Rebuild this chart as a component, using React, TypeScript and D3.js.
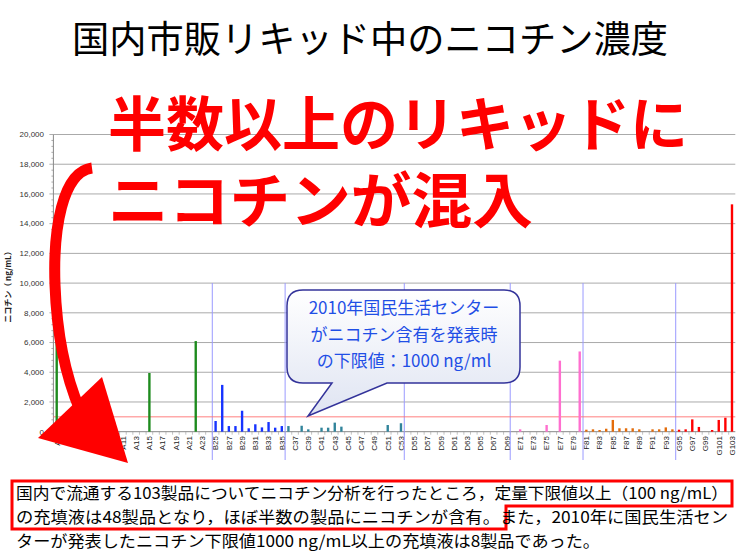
import React from "react";
import * as d3 from "d3";

// ---- data ----
const groupLetters = ["A", "B", "C", "D", "E", "F", "G"];
const groupFirstNumber = [1, 25, 36, 54, 70, 81, 95];
const groupColors = ["#1E8B1E", "#1633FF", "#31849B", "#7F7F7F", "#FF6FCF", "#E46C0A", "#FF0000"];
const productCount = 103;

// nicotine (ng/mL) for products 1..103
const nicotineValues = [
  6600, 0, 0, 0, 0, 0, 0, 0, 0, 0, // A1-A10
  0, 0, 0, 0, 3950, 0, 0, 0, 0, 0, // A11-A20
  0, 6100, 0, 0, // A21-A24
  720, 3150, 380, 380, 1410, 230, 500, 290, 650, 270, 380, // B25-B35
  380, 0, 400, 160, 0, 270, 270, 610, 340, 0, 0, 0, 0, 0, 0, 450, 0, 570, // C36-C53
  0, 0, 0, 0, 0, 0, 0, 0, 0, 0, 0, 0, 0, 0, 0, 0, // D54-D69
  0, 160, 0, 0, 0, 450, 0, 4780, 0, 0, 5400, // E70-E80
  135, 160, 115, 200, 790, 230, 230, 230, 160, 0, 160, 160, 290, 160, // F81-F94
  135, 160, 830, 320, 0, 115, 790, 940, 15300, // G95-G103
];

const yTicks = [0, 2000, 4000, 6000, 8000, 10000, 12000, 14000, 16000, 18000, 20000];
const limitValue = 1000;

const titleText = "国内市販リキッド中のニコチン濃度";
const bigText1 = "半数以上のリキッドに";
const bigText2 = "ニコチンが混入";
const calloutLines = ["2010年国民生活センター", "がニコチン含有を発表時", "の下限値：1000 ng/ml"];
const yAxisTitle = "ニコチン（ ng/mL）";
const noteLines = [
  "国内で流通する103製品についてニコチン分析を行ったところ，定量下限値以上（100 ng/mL）",
  "の充填液は48製品となり，ほぼ半数の製品にニコチンが含有。また，2010年に国民生活セン",
  "ターが発表したニコチン下限値1000 ng/mL以上の充填液は8製品であった。",
];

function groupOf(num: number) {
  let g = 0;
  for (let i = 0; i < groupFirstNumber.length; i++) if (num >= groupFirstNumber[i]) g = i;
  return g;
}

const products = d3.range(productCount).map((i) => {
  const num = i + 1;
  const g = groupOf(num);
  return { label: groupLetters[g] + num, group: g, value: nicotineValues[i], idx: i };
});

export default function App() {
  const left = 53.4;
  const right = 735.3;
  const top = 134.5;
  const bottom = 431.7;

  const x = d3
    .scaleBand<string>()
    .domain(products.map((p) => p.label))
    .range([left, right])
    .paddingInner(0.64)
    .paddingOuter(0.32);
  const y = d3.scaleLinear().domain([0, 20000]).range([bottom, top]);
  const step = x.step();
  const bw = x.bandwidth();

  const minorTicks = d3.range(0, 20001, 400);
  const sepX = groupFirstNumber.slice(1).map((n) => (x(products[n - 1].label) as number) + bw / 2 - step / 2);

  const arrowBody = "M 92,168 C 62,172 53,230 55,285 C 57,340 68,382 80,410";

  // callout
  const cL = 287, cR = 520, cT = 290, cB = 383, r = 16;
  const calloutPath = `M ${cL + r},${cT} H ${cR - r} Q ${cR},${cT} ${cR},${cT + r} V ${cB - r} Q ${cR},${cB} ${cR - r},${cB}
    H 387 L 308,416 L 332,${cB} H ${cL + r} Q ${cL},${cB} ${cL},${cB - r} V ${cT + r} Q ${cL},${cT} ${cL + r},${cT} Z`;

  const cjk = "'Noto Sans CJK JP', 'Noto Sans', sans-serif";
  const sans = "'Liberation Sans', Arial, sans-serif";

  return (
    <svg width={740} height={556} style={{ position: "absolute", left: 0, top: 0, background: "#fff" }}>
      <defs>
        <linearGradient id="cg" x1="0" y1="0" x2="0" y2="1">
          <stop offset="0" stopColor="#ffffff" />
          <stop offset="1" stopColor="#dfe4f2" />
        </linearGradient>
      </defs>
      <rect x={0} y={0} width={740} height={556} fill="#fff" />

      {/* title */}
      <text x={370} y={53} textAnchor="middle" fontFamily={cjk} fontSize={37} fill="#000" textLength={596} lengthAdjust="spacingAndGlyphs">
        {titleText}
      </text>

      {/* gridlines */}
      {yTicks.map((t) => (
        <line key={"g" + t} x1={left} x2={right} y1={y(t)} y2={y(t)} stroke={t === 0 ? "#888" : "#aaaaaa"} strokeWidth={1} />
      ))}
      {/* minor ticks */}
      {minorTicks.map((t) => (
        <line key={"m" + t} x1={left - (t % 2000 === 0 ? 4 : 2)} x2={left} y1={y(t)} y2={y(t)} stroke="#999" strokeWidth={0.8} />
      ))}
      <line x1={left} x2={left} y1={top} y2={bottom} stroke="#888" />
      {yTicks.map((t) => (
        <text key={"yl" + t} x={44} y={y(t)} dy="0.35em" textAnchor="end" fontFamily={sans} fontSize={8} fill="#333">
          {d3.format(",")(t)}
        </text>
      ))}
      <text transform={`translate(11,285) rotate(-90)`} textAnchor="middle" fontFamily={cjk} fontWeight={700} fontSize={8} fill="#222">
        {yAxisTitle}
      </text>

      {/* x ticks */}
      {products.map((p) => (
        <line key={"xt" + p.idx} x1={(x(p.label) as number) + bw / 2 - step / 2} x2={(x(p.label) as number) + bw / 2 - step / 2} y1={bottom} y2={bottom + 3} stroke="#999" strokeWidth={0.6} />
      ))}
      {products
        .filter((p) => p.idx % 2 === 0)
        .map((p) => (
          <text
            key={"xl" + p.idx}
            transform={`translate(${(x(p.label) as number) + bw / 2},436) rotate(-90)`}
            dy="0.35em"
            textAnchor="end"
            fontFamily={sans}
            fontSize={8}
            fill="#222"
          >
            {p.label}
          </text>
        ))}

      {/* group separators */}
      {sepX.map((sx, i) => (
        <line key={"s" + i} x1={sx} x2={sx} y1={283} y2={460} stroke="#9a9aff" strokeWidth={1} />
      ))}

      {/* limit line */}
      <line x1={left} x2={right} y1={y(limitValue)} y2={y(limitValue)} stroke="#ff7070" strokeWidth={0.9} />

      {/* bars */}
      {products
        .filter((p) => p.value > 0)
        .map((p) => (
          <rect key={"b" + p.idx} x={x(p.label) as number} y={y(p.value)} width={bw} height={bottom - y(p.value)} fill={groupColors[p.group]} />
        ))}

      {/* callout */}
      <path d={calloutPath} fill="url(#cg)" stroke="#33339a" strokeWidth={1.5} />
      {calloutLines.map((s, i) => (
        <text key={"c" + i} x={404} y={314 + i * 26.5} textAnchor="middle" fontFamily={cjk} fontSize={17} fill="#1f4fe6">
          {s}
        </text>
      ))}

      {/* big red text */}
      <text x={108} y={146} fontFamily={cjk} fontWeight={700} fontSize={59} fill="#ff0000" textLength={580} lengthAdjust="spacingAndGlyphs">
        {bigText1}
      </text>
      <text x={108} y={223} fontFamily={cjk} fontWeight={700} fontSize={60} fill="#ff0000" textLength={425} lengthAdjust="spacingAndGlyphs">
        {bigText2}
      </text>

      {/* red arrow */}
      <path d={arrowBody} fill="none" stroke="#ff0000" strokeWidth={11} />
      <polygon points="38,438 102,377 128,463" fill="#ff0000" />

      {/* note */}
      <path d="M 12,481 H 732 V 506 H 506 V 529 H 12 Z" fill="none" stroke="#ff0000" strokeWidth={3} />
      <text x={16} y={499} fontFamily={cjk} fontSize={16} fill="#000" textLength={712} lengthAdjust="spacingAndGlyphs">
        {noteLines[0]}
      </text>
      <text x={16} y={523} fontFamily={cjk} fontSize={16} fill="#000" textLength={712} lengthAdjust="spacingAndGlyphs">
        {noteLines[1]}
      </text>
      <text x={16} y={547} fontFamily={cjk} fontSize={16} fill="#000" textLength={584} lengthAdjust="spacingAndGlyphs">
        {noteLines[2]}
      </text>
    </svg>
  );
}
